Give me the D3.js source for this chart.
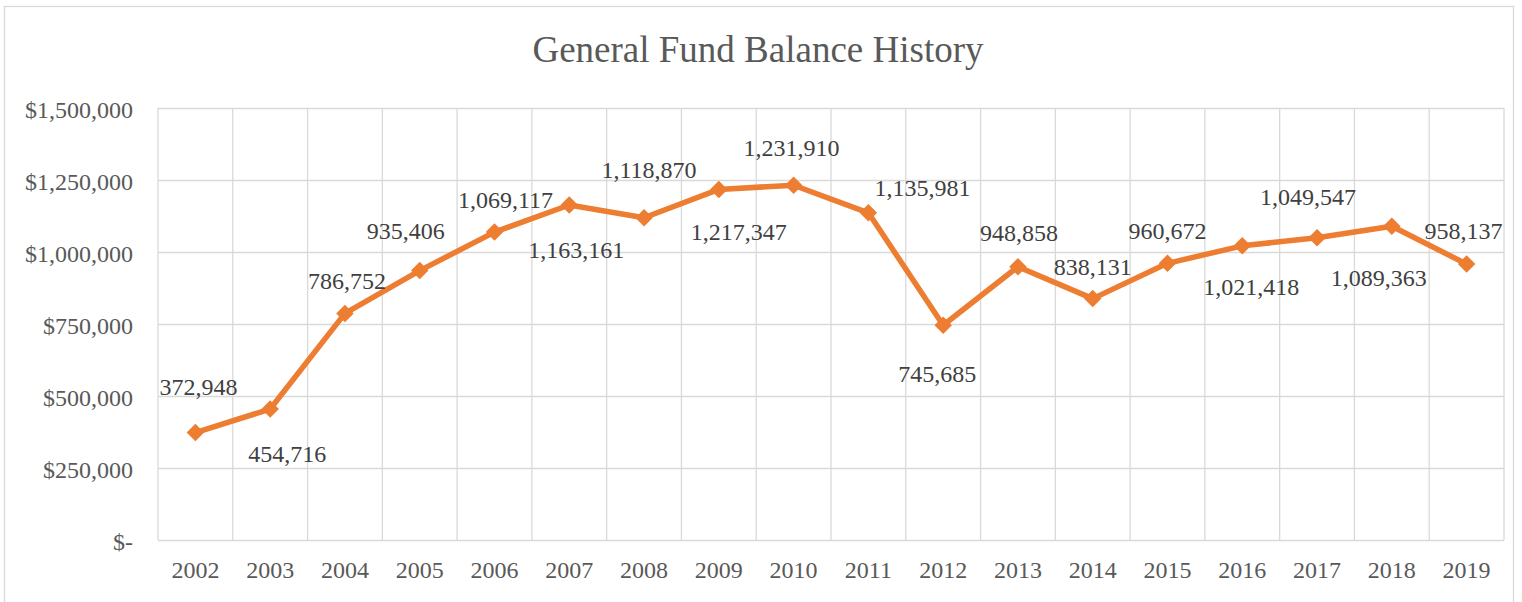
<!DOCTYPE html>
<html>
<head>
<meta charset="utf-8">
<script src="https://cdn.jsdelivr.net/npm/d3@7"></script>
<style>
  body { margin: 0; background: #fff; }
  svg { display: block; }
  text { font-family: "Liberation Serif", "Times New Roman", serif; }
</style>
</head>
<body>
<div id="chart"></div>
<script>
// data
const chartTitle = 'General Fund Balance History'
const years = ['2002', '2003', '2004', '2005', '2006', '2007', '2008', '2009', '2010',
  '2011', '2012', '2013', '2014', '2015', '2016', '2017', '2018', '2019']
const balances = [372948, 454716, 786752, 935406, 1069117, 1163161, 1118870, 1217347, 1231910,
  1135981, 745685, 948858, 838131, 960672, 1021418, 1049547, 1089363, 958137]
const yTicks = [0, 250000, 500000, 750000, 1000000, 1250000, 1500000]

// where each data label sits relative to its point (dx, dy), as placed in the original
const labelOffsets = [[3, -46], [17, 45], [2, -33], [-14, -40], [11, -32], [7, 45], [5, -48], [20, 42], [-2, -38],
  [54, -25], [-6, 48], [1, -34], [0, -32], [0, -33], [9, 41], [-9, -41], [-13, 51], [-3, -33]]

const width = 1522
const height = 602
const plot = { left: 158, top: 108, right: 1504, bottom: 540 }
const gridColor = '#d9d9d9'
const lineColor = '#ed7d31'

let svg = d3.select('#chart').append('svg').attr('width', width).attr('height', height)

// chart frame
svg.append('rect')
  .attr('x', 4.5).attr('y', 6.5)
  .attr('width', 1509).attr('height', 600)
  .attr('fill', '#fff').attr('stroke', gridColor).attr('stroke-width', 1.3)

// title
svg.append('text')
  .text(chartTitle)
  .attr('x', 758).attr('y', 62)
  .attr('text-anchor', 'middle')
  .attr('font-size', 37)
  .attr('fill', '#595959')

// scales
let x = d3.scaleBand().domain(years).range([plot.left, plot.right])
let y = d3.scaleLinear().domain([0, 1500000]).range([plot.bottom, plot.top])
let cx = d => x(d) + x.bandwidth() / 2

// y axis with horizontal gridlines
let moneyFmt = d3.format(',')
let yAxis = d3.axisLeft(y)
  .tickValues(yTicks)
  .tickFormat(d => d === 0 ? '$-' : '$' + moneyFmt(d))
  .tickSize(-(plot.right - plot.left))
  .tickPadding(25)
let gy = svg.append('g').attr('class', 'yAxis').attr('transform', 'translate(' + plot.left + ',0)').call(yAxis)
gy.attr('font-family', null)
gy.select('.domain').remove()
gy.selectAll('line').attr('stroke', gridColor).attr('stroke-width', 1.3)
gy.selectAll('text').attr('font-size', 24).attr('fill', '#595959').attr('dy', '0.4em')

// vertical gridlines at the category boundaries
let boundaries = years.map(d => x(d)).concat([plot.right])
svg.append('g').attr('class', 'vgrid')
  .selectAll('line').data(boundaries).join('line')
  .attr('x1', d => d).attr('x2', d => d)
  .attr('y1', plot.top).attr('y2', plot.bottom)
  .attr('stroke', gridColor).attr('stroke-width', 1.3)

// x axis
let xAxis = d3.axisBottom(x).tickSize(0).tickPadding(21)
let gx = svg.append('g').attr('class', 'xAxis').attr('transform', 'translate(0,' + plot.bottom + ')').call(xAxis)
gx.attr('font-family', null)
gx.select('.domain').remove()
gx.selectAll('text').attr('font-size', 24).attr('fill', '#595959')

// series line
let pts = years.map((d, i) => [cx(d), y(balances[i])])
svg.append('path')
  .attr('d', d3.line()(pts))
  .attr('fill', 'none')
  .attr('stroke', lineColor)
  .attr('stroke-width', 5.5)
  .attr('stroke-linejoin', 'round')

// diamond markers
const r = 8.75
svg.append('g').attr('class', 'markers')
  .selectAll('path').data(pts).join('path')
  .attr('d', 'M0,' + (-r) + 'L' + r + ',0L0,' + r + 'L' + (-r) + ',0Z')
  .attr('transform', d => 'translate(' + d[0] + ',' + d[1] + ')')
  .attr('fill', lineColor)

// data labels
svg.append('g').attr('class', 'labels')
  .selectAll('text').data(balances).join('text')
  .text(d => moneyFmt(d))
  .attr('x', (d, i) => cx(years[i]) + labelOffsets[i][0])
  .attr('y', (d, i) => y(d) + labelOffsets[i][1])
  .attr('dy', '0.35em')
  .attr('text-anchor', 'middle')
  .attr('font-size', 24)
  .attr('fill', '#404040')
</script>
</body>
</html>
